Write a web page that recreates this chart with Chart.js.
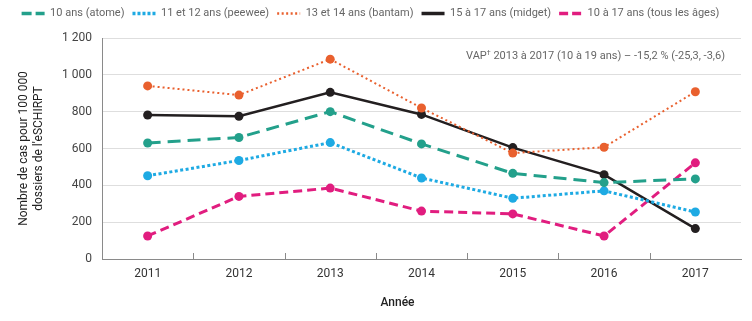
<!DOCTYPE html>
<html>
<head>
<meta charset="utf-8">
<script src="https://cdn.jsdelivr.net/npm/chart.js@4"></script>
<style>
html,body{margin:0;padding:0;background:#fff;}
#wrap{width:752px;height:321px;}
</style>
</head>
<body>
<div id="wrap"><canvas id="c" width="752" height="321"></canvas></div>
<script>
const years = ['2011', '2012', '2013', '2014', '2015', '2016', '2017'];
const atome  = [630, 660, 800, 625, 465, 415, 435];
const peewee = [452, 535, 632, 440, 330, 370, 255];
const bantam = [940, 890, 1085, 820, 575, 607, 908];
const midget = [782, 775, 905, 785, 605, 458, 165];
const tous   = [125, 340, 385, 260, 245, 125, 522];
const seriesLabels = ['10 ans (atome)', '11 et 12 ans (peewee)', '13 et 14 ans (bantam)', '15 à 17 ans (midget)', '10 à 17 ans (tous les âges)'];
const yTitle = ['Nombre de cas pour 100 000', "dossiers de l'eSCHIRPT"];
const xTitle = 'Année';
const noteMain = ' 2013 à 2017 (10 à 19 ans) – -15,2 % (-25,3, -3,6)';

const FONT = 'Roboto, "Noto Sans", sans-serif';
const colors = ['#23a08b', '#1eaae3', '#e9602e', '#231f20', '#e11d7f'];
const widths = [3, 3, 2, 2.5, 3];
const dashes = [[13, 7], [3, 2.5], [2, 3], [], [9, 5]];
const legendDashes = [[10, 4], [3, 2], [2, 2.5], [], [9, 4]];
const allData = [atome, peewee, bantam, midget, tous];

const datasets = allData.map((d, i) => ({
  label: seriesLabels[i],
  data: d,
  borderColor: colors[i],
  backgroundColor: colors[i],
  borderWidth: widths[i],
  borderDash: dashes[i],
  pointRadius: 4.5,
  pointBorderWidth: 0,
  pointBackgroundColor: colors[i],
  tension: 0,
  fill: false
}));

const extras = {
  id: 'extras',
  afterLayout(chart) {
    const lg = chart.legend;
    if (lg) { lg.top -= 9; lg.bottom -= 9; }
  },
  afterDraw(chart) {
    const ctx = chart.ctx, ca = chart.chartArea, xs = chart.scales.x;
    ctx.save();
    ctx.strokeStyle = '#8a8a8a';
    ctx.lineWidth = 1;
    for (let i = 0; i < years.length - 1; i++) {
      const x = Math.round((xs.getPixelForValue(i) + xs.getPixelForValue(i + 1)) / 2) + 0.5;
      ctx.beginPath();
      ctx.moveTo(x, ca.bottom);
      ctx.lineTo(x, ca.bottom - 6);
      ctx.stroke();
    }
    ctx.fillStyle = '#666';
    ctx.textBaseline = 'middle';
    ctx.font = '11px ' + FONT;
    const wMain = ctx.measureText(noteMain).width;
    ctx.font = '7px ' + FONT;
    const wDag = ctx.measureText('†').width;
    ctx.font = '11px ' + FONT;
    const wVap = ctx.measureText('VAP').width;
    const xEnd = ca.right - 16;
    let x0 = xEnd - wMain - wDag - wVap;
    const yN = ca.top + 18;
    ctx.textAlign = 'left';
    ctx.fillText('VAP', x0, yN);
    ctx.font = '7px ' + FONT;
    ctx.fillText('†', x0 + wVap, yN - 3);
    ctx.font = '11px ' + FONT;
    ctx.fillText(noteMain, x0 + wVap + wDag, yN);
    ctx.fillStyle = '#222';
    ctx.font = '500 12px ' + FONT;
    ctx.textAlign = 'center';
    ctx.fillText(xTitle, (ca.left + ca.right) / 2 - 24, 303);
    ctx.restore();
  }
};

new Chart(document.getElementById('c'), {
  type: 'line',
  data: { labels: years, datasets },
  plugins: [extras],
  options: {
    responsive: false,
    animation: false,
    devicePixelRatio: 1,
    layout: { padding: { left: 0, right: 11, top: 9, bottom: 0 } },
    plugins: {
      tooltip: { enabled: false },
      legend: {
        display: true,
        position: 'top',
        labels: {
          font: { family: FONT, size: 11 },
          color: '#666',
          usePointStyle: true,
          pointStyle: 'line',
          pointStyleWidth: 23,
          padding: 8,
          generateLabels(chart) {
            return chart.data.datasets.map((ds, i) => ({
              text: ds.label,
              fillStyle: ds.borderColor,
              strokeStyle: ds.borderColor,
              lineWidth: i === 2 ? 2.5 : 3.5,
              lineDash: legendDashes[i],
              lineCap: 'butt',
              pointStyle: 'line',
              fontColor: '#666',
              hidden: false,
              datasetIndex: i
            }));
          }
        }
      }
    },
    scales: {
      x: {
        offset: true,
        grid: { display: true, drawOnChartArea: false, drawTicks: false },
        border: { display: true, color: '#8a8a8a', width: 1 },
        ticks: { font: { family: FONT, size: 12 }, color: '#333', padding: 8, maxRotation: 0 },
        afterFit(s) { s.height = 62; }
      },
      y: {
        min: 0,
        max: 1200,
        ticks: {
          stepSize: 200,
          font: { family: FONT, size: 12 },
          color: '#444',
          padding: 10,
          callback: v => String(v).replace(/\B(?=(\d{3})+(?!\d))/g, ' ')
        },
        grid: { color: '#dedede', lineWidth: 1, drawTicks: false },
        border: { display: true, color: '#8a8a8a', width: 1 },
        title: {
          display: true,
          text: yTitle,
          font: { family: FONT, size: 12 },
          color: '#222',
          padding: { top: 17, bottom: 0 }
        },
        afterFit(s) { s.width = 102; }
      }
    }
  }
});
</script>
</body>
</html>
